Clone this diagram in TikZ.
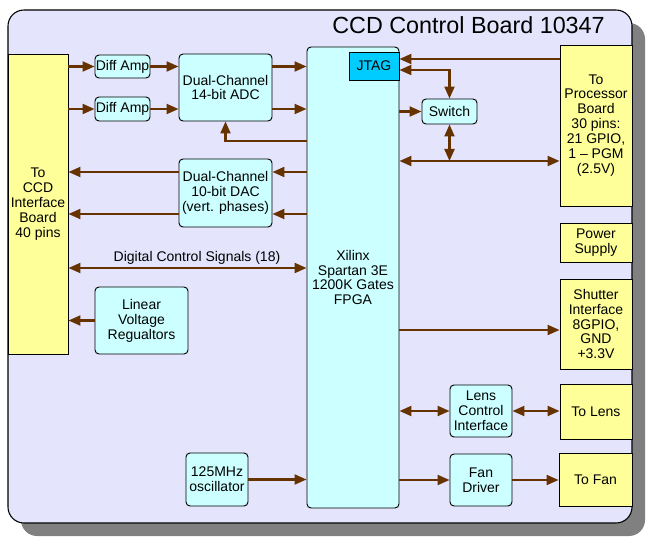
\documentclass[tikz,border=0pt]{standalone}
\usepackage{fontspec}
\setmainfont{Liberation Sans}
\usetikzlibrary{arrows.meta}
\definecolor{boardbg}{HTML}{E4E4FC}
\definecolor{shadowgray}{HTML}{808080}
\definecolor{cyanbox}{HTML}{CCFFFF}
\definecolor{yellowbox}{HTML}{FFFF99}
\definecolor{jtagcol}{HTML}{00CCFF}
\definecolor{wire}{HTML}{663300}
\tikzset{
  sz/.style 2 args={minimum width=#1*0.75pt, minimum height=#2*0.75pt},
  basebox/.style={draw=black, line width=0.7pt, inner sep=0pt, align=center,
    font=\fontsize{10.5}{11.2}\selectfont},
  cbox/.style={basebox, fill=cyanbox, rounded corners=3pt},
  ybox/.style={basebox, fill=yellowbox},
  jbox/.style={basebox, fill=jtagcol},
  arr/.style={draw=wire, line width=1.6pt, -{Triangle[length=9pt,width=7.5pt]}},
  darr/.style={draw=wire, line width=1.6pt, {Triangle[length=9pt,width=7.5pt]}-{Triangle[length=9pt,width=7.5pt]}},
}
\begin{document}
\begin{tikzpicture}[x=0.75pt,y=-0.75pt]
\useasboundingbox (0,0) rectangle (658,549);
% board and shadow
\fill[shadowgray, rounded corners=12pt] (21,23) rectangle (645,536);
\draw[fill=boardbg, line width=0.8pt, rounded corners=12pt] (8,10) rectangle (632,523);
\node[anchor=east, inner sep=0pt, font=\fontsize{17.5}{20}\selectfont] (title) at (605,25) {CCD Control Board 10347};

% nodes
\node[ybox, sz={60}{300}] (ccd) at (38,204) {To\\CCD\\Interface\\Board\\40 pins};
\node[cbox, sz={55}{23}] (da1) at (122.5,66.5) {Diff Amp};
\node[cbox, sz={55}{24}] (da2) at (122.5,109) {Diff Amp};
\node[cbox, sz={93}{67}] (adc) at (225.5,87.5) {Dual-Channel\\14-bit ADC};
\node[cbox, sz={93}{68}] (dac) at (225.5,193) {Dual-Channel\\10-bit DAC\\(vert. phases)};
\node[cbox, sz={92}{461}] (fpga) at (353,277.5) {Xilinx\\Spartan 3E\\1200K Gates\\FPGA};
\node[jbox, sz={50}{28}] (jtag) at (374,66) {JTAG};
\node[cbox, sz={55}{25}] (sw) at (449.5,111.5) {Switch};
\node[ybox, sz={72}{161}] (proc) at (596,125.5) {To\\Processor\\Board\\30 pins:\\21 GPIO,\\1 – PGM\\(2.5V)};
\node[ybox, sz={72}{39}] (pwr) at (596,242.5) {Power\\Supply};
\node[ybox, sz={72}{90}] (shut) at (596,324) {Shutter\\Interface\\8GPIO,\\GND\\+3.3V};
\node[cbox, sz={62}{52}] (lci) at (481,411) {Lens\\Control\\Interface};
\node[ybox, sz={72}{55}] (lens) at (596,411.5) {To Lens};
\node[cbox, sz={62}{52}] (fan) at (481,480) {Fan\\Driver};
\node[ybox, sz={73}{53}] (tofan) at (595.5,479.5) {To Fan};
\node[cbox, sz={93}{67}] (lvr) at (141.5,320.5) {Linear\\Voltage\\Regualtors};
\node[cbox, sz={62}{53}] (osc) at (217,479.5) {125MHz\\oscillator};

% level coordinates
\coordinate (yfb) at (0,141);
\coordinate (yd1) at (0,172);
\coordinate (yd2) at (0,214);
\coordinate (ydig) at (0,268);
\coordinate (yjt1) at (0,59);
\coordinate (yjt2) at (0,70);
\coordinate (ybus) at (0,161);
\coordinate (ysh) at (0,330);

% connectors
\draw[arr] (ccd.east |- da1) -- (da1.west);
\draw[arr] (ccd.east |- da2) -- (da2.west);
\draw[arr] (da1.east) -- (adc.west |- da1.east);
\draw[arr] (da2.east) -- (adc.west |- da2.east);
\draw[arr] (adc.east |- da1) -- (fpga.west |- da1);
\draw[arr] (adc.east |- da2) -- (fpga.west |- da2);
\draw[arr] (fpga.west |- yfb) -| (adc.south);
\draw[arr] (dac.west |- yd1) -- (ccd.east |- yd1);
\draw[arr] (dac.west |- yd2) -- (ccd.east |- yd2);
\draw[arr] (fpga.west |- yd1) -- (dac.east |- yd1);
\draw[arr] (fpga.west |- yd2) -- (dac.east |- yd2);
\draw[darr] (ccd.east |- ydig) -- (fpga.west |- ydig);
\node[inner sep=0pt, font=\fontsize{10.5}{11.2}\selectfont] (diglabel) at (197,258) {Digital Control Signals (18)};
\draw[arr] (lvr.west) -- (ccd.east |- lvr.west);
\draw[arr] (osc.east) -- (fpga.west |- osc.east);
\draw[arr] (proc.west |- yjt1) -- (jtag.east |- yjt1);
\draw[darr] (jtag.east |- yjt2) -| (sw.north);
\draw[arr] (fpga.east |- sw) -- (sw.west);
\draw[darr] (sw.south) -- (sw.south |- ybus);
\draw[darr] (fpga.east |- ybus) -- (proc.west |- ybus);
\draw[arr] (fpga.east |- ysh) -- (shut.west |- ysh);
\draw[darr] (fpga.east |- lci) -- (lci.west);
\draw[darr] (lci.east) -- (lens.west |- lci.east);
\draw[arr] (fpga.east |- fan) -- (fan.west);
\draw[arr] (fan.east) -- (tofan.west |- fan.east);
\end{tikzpicture}
\end{document}
